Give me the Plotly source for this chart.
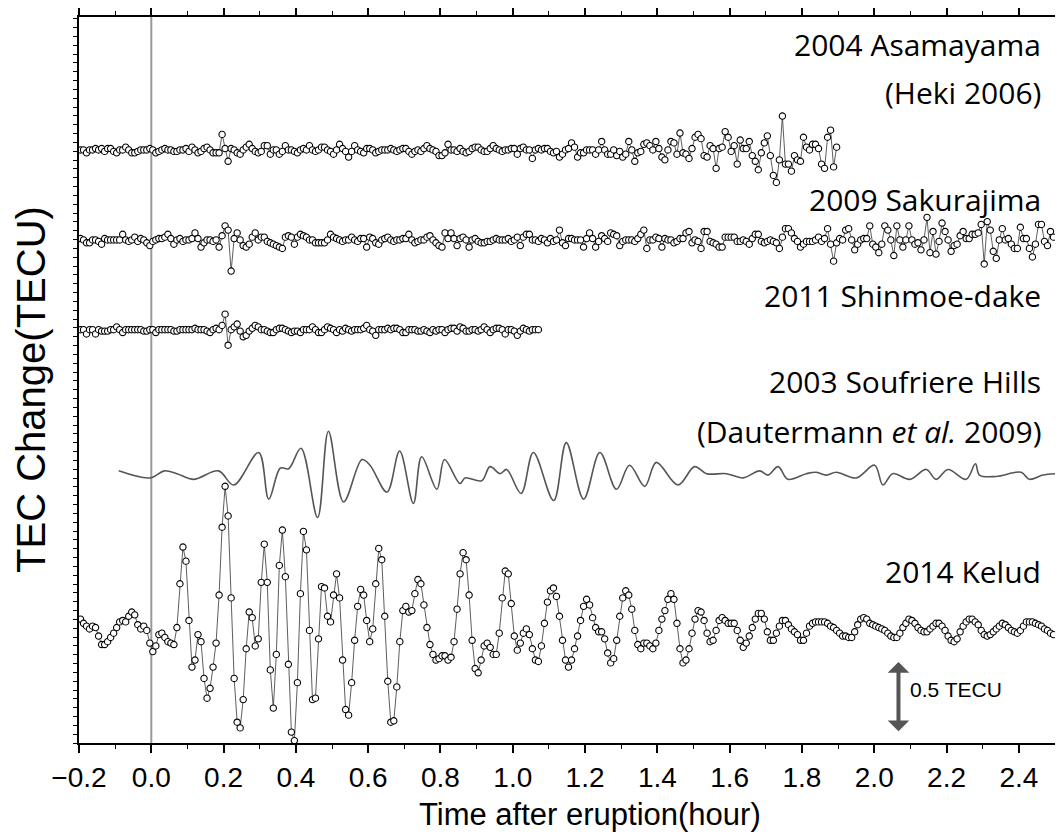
import plotly.graph_objects as go

# ---------------- data (TECU, relative to each series' own baseline) ----------------
DT = 1.0 / 120.0          # 30-s sampling, in hours
T0 = -0.1958              # time of first sample (hour)

asama_label = ["2004 Asamayama", "(Heki 2006)"]
asama_offset = 4.197
asama_vals = [
    0.00, 0.00, -0.02, 0.00, 0.00, 0.01, 0.00, 0.01, -0.01, 0.01,
    0.01, -0.01, -0.02, 0.00, 0.00, 0.02, 0.00, -0.02, -0.02, -0.01,
    0.00, 0.00, 0.00, 0.01, 0.00, -0.02, -0.01, 0.00, 0.01, 0.00,
    0.00, -0.01, -0.01, 0.00, 0.00, 0.01, -0.01, 0.02, 0.00, -0.02,
    -0.01, 0.01, 0.02, 0.00, -0.02, -0.02, -0.02, 0.11, 0.01, -0.08,
    0.01, 0.00, -0.02, -0.03, 0.00, 0.02, 0.04, 0.01, -0.01, -0.02,
    -0.01, 0.03, 0.03, -0.03, 0.00, 0.00, -0.03, -0.01, 0.03, 0.00,
    0.00, -0.01, -0.02, 0.00, 0.01, 0.00, 0.03, 0.00, -0.01, 0.00,
    0.02, 0.02, 0.00, -0.01, -0.03, 0.00, 0.04, 0.01, -0.01, -0.05,
    -0.01, 0.03, 0.00, -0.01, -0.02, 0.01, 0.01, 0.00, -0.02, -0.01,
    0.00, 0.00, 0.00, 0.01, 0.00, -0.01, 0.00, 0.01, 0.01, -0.01,
    -0.03, -0.01, 0.00, -0.01, 0.01, 0.03, 0.01, 0.00, -0.01, -0.04,
    -0.04, -0.02, 0.04, 0.00, 0.00, -0.01, 0.01, -0.01, -0.02, -0.01,
    0.01, 0.02, 0.02, 0.00, -0.01, -0.01, 0.01, 0.03, 0.01, 0.00,
    -0.01, 0.00, 0.00, 0.01, 0.01, -0.03, 0.01, 0.02, 0.00, 0.00,
    -0.06, 0.00, 0.01, 0.00, 0.01, 0.01, -0.01, -0.02, -0.01, -0.05,
    -0.03, 0.00, 0.01, 0.05, 0.02, -0.05, -0.02, -0.02, 0.00, 0.00,
    0.00, -0.03, 0.00, 0.06, 0.00, -0.03, -0.03, 0.00, -0.04, -0.01,
    -0.05, -0.03, 0.06, 0.00, -0.08, -0.02, -0.01, 0.04, 0.05, 0.03,
    0.00, 0.06, 0.01, -0.05, -0.07, 0.00, 0.06, 0.05, -0.03, 0.12,
    -0.02, -0.03, -0.06, 0.01, 0.09, 0.11, 0.08, -0.04, -0.05, 0.03,
    0.01, -0.13, 0.01, 0.02, 0.13, 0.09, -0.01, 0.03, -0.10, 0.07,
    0.01, 0.01, 0.06, -0.04, -0.08, -0.14, -0.02, 0.05, 0.10, -0.04,
    -0.18, -0.23, -0.07, 0.24, -0.10, -0.10, -0.15, -0.04, -0.07, -0.08,
    0.09, 0.02, 0.00, 0.04, 0.04, 0.01, -0.10, -0.13, 0.09, 0.14,
    -0.12, 0.02,
]

sakura_label = ["2009 Sakurajima"]
sakura_offset = 3.56
sakura_vals = [
    0.01, 0.00, -0.02, -0.02, 0.00, 0.00, -0.01, -0.03, 0.01, 0.00,
    0.00, 0.00, 0.00, 0.00, 0.04, 0.00, -0.01, 0.00, 0.02, -0.01,
    0.01, 0.00, -0.02, -0.04, -0.01, 0.00, 0.01, 0.01, 0.02, 0.04,
    0.01, -0.03, 0.00, 0.01, -0.01, 0.00, 0.00, 0.01, 0.05, 0.01,
    -0.05, -0.02, 0.00, 0.00, -0.01, 0.00, -0.05, 0.03,
    0.10, 0.07, -0.22, 0.01, 0.05, 0.00, -0.04, -0.05, -0.03, 0.02,
    0.05, 0.00, 0.02, 0.02, -0.01, -0.02, -0.03, -0.04, -0.05, -0.06,
    0.02, 0.03, 0.02, -0.03, 0.02, 0.04, 0.03, 0.02, 0.00, 0.00,
    -0.02, -0.02, -0.02, -0.02, 0.00, 0.04, 0.02, 0.01, 0.00, -0.01,
    0.00, 0.00, 0.02, 0.00, -0.01, 0.01, 0.01, -0.05, 0.02, 0.01,
    -0.02, -0.03, 0.00, 0.01, 0.02, 0.00, -0.01, 0.00, 0.00, 0.01,
    0.01, 0.04, 0.00, -0.02, -0.01, 0.00, 0.00, 0.02, 0.03, 0.00,
    -0.02, -0.04, -0.05, 0.05, 0.01, 0.05, 0.01, -0.04, 0.01, 0.02,
    0.00, -0.05, 0.00, 0.01, -0.01, -0.02, -0.02, -0.01, -0.01, 0.00,
    0.01, 0.00, 0.00, 0.00, 0.01, -0.01, 0.00, 0.02, -0.04, 0.02,
    0.04, 0.04, 0.00, 0.00, -0.01, 0.01, 0.00, -0.02, 0.01, -0.01,
    0.00, 0.07, -0.02, -0.04, 0.01, 0.01, 0.00,
    0.00, 0.00, -0.05, 0.01, 0.05, 0.01, -0.05, -0.01, 0.03, 0.01,
    -0.01, 0.05, 0.04, 0.03, -0.04, -0.01, 0.00, 0.00, 0.00, -0.01,
    0.01, 0.04, 0.07, -0.06, 0.00, 0.00, 0.02, 0.01, -0.05, 0.01,
    0.00, 0.00, -0.02, -0.01, 0.01, 0.01, 0.05, 0.06, -0.02, 0.00,
    -0.01, -0.06, 0.06, 0.06, -0.01, -0.02, -0.03, -0.05, -0.05, 0.02,
    0.02, 0.02, 0.02, -0.01, -0.01, 0.00, -0.01, -0.03, 0.01, 0.04,
    0.04, -0.01, -0.02, -0.01, 0.00, -0.01, -0.02, -0.06, 0.02, 0.08,
    0.08, 0.05, 0.01, -0.01, -0.05, -0.03, -0.01, -0.01, -0.01, 0.00,
    0.02, -0.01, 0.01, 0.08, -0.03, -0.15, -0.02, 0.01, 0.00, 0.07,
    0.08, 0.00, -0.07, -0.03, 0.00, 0.01, 0.01, 0.10, -0.03, -0.05,
    -0.09, -0.03, 0.10, 0.07, 0.00, -0.11, 0.10, 0.00, -0.05, 0.00,
    0.10, 0.00, -0.03, -0.02, -0.07, 0.00, 0.16, -0.09, 0.06, -0.10,
    -0.01, 0.12, 0.06, 0.00, -0.08, -0.04, -0.03, 0.03, 0.06, 0.01,
    0.01, 0.04, 0.04, 0.05, 0.11, -0.17, 0.13, 0.07, -0.08, -0.13,
    0.00, 0.08, 0.00, 0.01, -0.03, -0.06, -0.06, 0.09, 0.01, 0.01,
    -0.06, -0.12, -0.03, 0.11, 0.11, -0.01, -0.04, 0.06, 0.02,
]

shinmoe_label = ["2011 Shinmoe-dake"]
shinmoe_offset = 2.925
shinmoe_vals = [
    0.00, 0.00, -0.03, 0.00, 0.00, -0.03, 0.00, -0.01, -0.01, -0.01,
    0.00, 0.00, 0.02, 0.00, -0.02, 0.00, 0.00, 0.00, 0.00, 0.00,
    0.00, -0.01, -0.01, 0.00, 0.00, -0.02, 0.00, 0.00, 0.00, 0.00,
    0.00, -0.01, -0.01, 0.00, 0.00, 0.00, 0.00, 0.00, 0.01, 0.00,
    0.00, 0.00, -0.01, -0.02, 0.00, 0.01, 0.00,
    0.03, 0.11, -0.11, 0.00, 0.02, 0.04, -0.01, -0.05, -0.04, -0.01, 0.01, 0.03,
    0.02, 0.00, 0.00, -0.01, -0.02, -0.02, 0.00, 0.01, 0.01, 0.00,
    -0.01, -0.02, -0.01, -0.01, -0.02, 0.00, 0.00, 0.00, 0.02, 0.00,
    -0.02, -0.02, 0.00, 0.02, 0.01, 0.00, -0.02, 0.00, -0.01, 0.01,
    0.00, -0.01, 0.00, 0.00, 0.00, 0.01, 0.03, 0.00, -0.01, -0.04,
    0.00, 0.00, 0.00, 0.01, 0.00, 0.01, 0.01, 0.00, -0.02, -0.02,
    0.00, 0.00, 0.00, -0.01, -0.01, 0.00, -0.01, -0.02, 0.00, -0.01,
    0.00, 0.00, -0.02, 0.00, 0.01, 0.01, -0.01, 0.02, 0.01, -0.01,
    -0.01, 0.00, 0.00, -0.01, 0.00, 0.02, 0.00, -0.02, 0.00, 0.01,
    0.01, 0.00, -0.03, 0.00, 0.00, -0.01, -0.04, -0.01, 0.01, 0.00,
    -0.01, 0.00, 0.00, 0.00,
]

souf_label = ["2003 Soufriere Hills", "(Dautermann <i>et al.</i> 2009)"]
souf_offset = 1.906
souf_t = [
    -0.090, -0.003, 0.036, 0.071, 0.117, 0.186, 0.228, 0.297, 0.325, 0.357,
    0.380, 0.414, 0.460, 0.490, 0.532, 0.583, 0.605, 0.652, 0.687, 0.725,
    0.748, 0.790, 0.811, 0.854, 0.868, 0.914, 0.937, 0.965, 0.983, 1.023,
    1.057, 1.113, 1.148, 1.196, 1.241, 1.287, 1.323, 1.365, 1.397, 1.457,
    1.503, 1.536, 1.591, 1.637, 1.683, 1.706, 1.734, 1.761, 1.812, 1.840,
    1.867, 1.895, 1.950, 2.001, 2.024, 2.051, 2.098, 2.144, 2.171, 2.204,
    2.254, 2.280, 2.291, 2.337, 2.406, 2.429, 2.466, 2.500,
]
souf_vals = [
    0.02, -0.03, 0.02, 0.00, -0.04, 0.02, -0.08, 0.15, -0.18, 0.04,
    0.035, 0.18, -0.31, 0.30, -0.20, 0.10, 0.06, -0.13, 0.16, -0.21,
    0.12, -0.11, 0.10, -0.07, -0.03, -0.05, 0.05, 0.00, 0.03, -0.14,
    0.15, -0.19, 0.22, -0.18, 0.15, -0.11, 0.06, -0.09, 0.08, -0.08,
    0.05, 0.00, 0.00, -0.03, 0.02, -0.01, 0.05, -0.04, 0.00, 0.01,
    -0.01, 0.01, -0.03, 0.06, -0.08, 0.00, -0.04, 0.03, -0.04, 0.03,
    -0.04, 0.07, -0.01, -0.02, 0.01, -0.04, -0.01, 0.00,
]

kelud_label = ["2014 Kelud"]
kelud_offset = 0.837
kelud_vals = [
    0.04, 0.01, -0.01, -0.03, -0.01, -0.02, -0.08, -0.14, -0.14, -0.12,
    -0.09, -0.06, -0.02, 0.02, 0.03, 0.02, 0.06, 0.09, 0.07, 0.00,
    -0.03, -0.01, -0.04, -0.13, -0.19, -0.15, -0.07, -0.06, -0.09, -0.12,
    -0.13, -0.14, -0.02, 0.29, 0.55, 0.45, 0.03, -0.30, -0.25, -0.07,
    -0.12, -0.38, -0.52, -0.45, -0.30, -0.13, 0.21, 0.69, 0.98, 0.77,
    0.19, -0.38, -0.69, -0.73, -0.53, -0.17, 0.09, 0.05, -0.15, -0.10,
    0.30, 0.57, 0.30, -0.32, -0.59, -0.21, 0.42, 0.67, 0.34, -0.28,
    -0.76, -0.82, -0.41, 0.22, 0.66, 0.53, -0.04, -0.53, -0.52, -0.10,
    0.27, 0.26, 0.06, 0.02, 0.21, 0.36, 0.19, -0.25, -0.60, -0.64,
    -0.41, -0.11, 0.13, 0.25, 0.21, 0.03, -0.12, -0.03, 0.29, 0.54,
    0.46, 0.06, -0.40, -0.69, -0.68, -0.44, -0.12, 0.10, 0.13, 0.09,
    0.10, 0.22, 0.32, 0.29, 0.14, -0.02, -0.14, -0.21, -0.25, -0.24,
    -0.22, -0.22, -0.25, -0.23, -0.12, 0.11, 0.36, 0.51, 0.46, 0.21,
    -0.11, -0.31, -0.34, -0.25, -0.15, -0.13, -0.16, -0.21, -0.21, -0.06,
    0.19, 0.38, 0.36, 0.15, -0.08, -0.18, -0.13, -0.06, -0.03, -0.07,
    -0.17, -0.25, -0.26, -0.15, 0.01, 0.16, 0.24, 0.26, 0.20, 0.06,
    -0.11, -0.25, -0.30, -0.25, -0.17, -0.08, 0.03, 0.13, 0.18, 0.14,
    0.05, -0.02, -0.05, -0.05, -0.10, -0.20, -0.27, -0.24, -0.11, 0.06,
    0.19, 0.24, 0.21, 0.11, -0.04, -0.14, -0.17, -0.13, -0.13, -0.15,
    -0.17, -0.13, -0.04, 0.04, 0.10, 0.18, 0.22, 0.18, 0.01, -0.17,
    -0.27, -0.25, -0.17, -0.06, 0.04, 0.10, 0.09, 0.03, -0.06, -0.12,
    -0.11, -0.04, 0.03, 0.05, 0.03, 0.01, 0.01, 0.01, -0.04, -0.11,
    -0.16, -0.13, -0.08, -0.02, 0.04, 0.08, 0.08, 0.04, -0.05, -0.11,
    -0.11, -0.06, -0.01, 0.03, 0.03, 0.00, -0.03, -0.05, -0.07, -0.11,
    -0.11, -0.06, -0.01, 0.01, 0.02, 0.02, 0.02, 0.02, 0.01, -0.01,
    -0.02, -0.04, -0.06, -0.08, -0.08, -0.09, -0.09, -0.05, 0.00, 0.04,
    0.05, 0.04, 0.01, 0.00, -0.01, -0.02, -0.03, -0.04, -0.06, -0.08,
    -0.09, -0.09, -0.06, -0.02, 0.01, 0.04, 0.03, 0.01, -0.02, -0.04,
    -0.05, -0.05, -0.03, -0.01, 0.01, 0.01, -0.01, -0.04, -0.08, -0.11,
    -0.12, -0.10, -0.05, -0.01, 0.02, 0.04, 0.04, 0.02, 0.00, -0.04,
    -0.07, -0.08, -0.07, -0.05, -0.03, -0.01, 0.01, 0.00, -0.02, -0.04,
    -0.05, -0.06, -0.04, -0.01, 0.02, 0.02, 0.02, 0.01, 0.00, -0.01,
    -0.03, -0.04, -0.06, -0.07,
]

scale_label = "0.5 TECU"
scale_len = 0.5
x_ticks = [-0.2, 0.0, 0.2, 0.4, 0.6, 0.8, 1.0, 1.2, 1.4, 1.6, 1.8, 2.0, 2.2, 2.4]
x_title = "Time after eruption(hour)"
y_title = "TEC Change(TECU)"

# ---------------- figure ----------------
fig = go.Figure()


def sampled(vals, offset):
    t = [T0 + i * DT for i in range(len(vals))]
    y = [v + offset for v in vals]
    return t, y


fig.add_trace(go.Scatter(
    x=souf_t, y=[v + souf_offset for v in souf_vals], mode="lines",
    line=dict(color="#555555", width=1.6, shape="spline", smoothing=1.0),
    hoverinfo="skip"))

for vals, off in [(asama_vals, asama_offset), (sakura_vals, sakura_offset),
                  (shinmoe_vals, shinmoe_offset), (kelud_vals, kelud_offset)]:
    t, y = sampled(vals, off)
    fig.add_trace(go.Scatter(
        x=t, y=y, mode="lines+markers",
        line=dict(color="#333333", width=0.8),
        marker=dict(symbol="circle", size=6.3, color="white",
                    line=dict(color="black", width=1.1)),
        hoverinfo="skip"))

label_font = dict(family="Open Sans", size=30, color="black")
x_lab = 2.468
ann = []
label_rows = [
    (asama_label[0], 4.942), (asama_label[1], 4.602),
    (sakura_label[0], 3.845), (shinmoe_label[0], 3.166),
    (souf_label[0], 2.557), (souf_label[1], 2.203),
    (kelud_label[0], 1.212),
]
for txt, yy in label_rows:
    ann.append(dict(x=x_lab, y=yy, xref="x", yref="y", text=txt, showarrow=False,
                    xanchor="right", yanchor="middle", font=label_font))

# 0.5 TECU scale arrow (double headed)
ax_x = 2.067
y_bot = 0.073
y_top = y_bot + scale_len
ann.append(dict(x=ax_x, y=y_top, ax=ax_x, ay=y_bot, xref="x", yref="y",
                axref="x", ayref="y", text="", showarrow=True,
                arrowside="end+start", arrowhead=1, startarrowhead=1,
                arrowsize=0.9, startarrowsize=0.9, arrowwidth=4,
                standoff=0, startstandoff=0, arrowcolor="#555555"))
ann.append(dict(x=2.092, y=(y_bot + y_top) / 2 + 0.053, xref="x", yref="y",
                text=scale_label, showarrow=False, xanchor="left", yanchor="middle",
                font=dict(family="Liberation Sans", size=21, color="black")))

# axis titles
ann.append(dict(x=0.5236, y=-0.099, xref="paper", yref="paper", text=x_title,
                showarrow=False, xanchor="center", yanchor="middle",
                font=dict(family="Liberation Sans", size=31, color="black")))
ann.append(dict(x=-0.049, y=0.4866, xref="paper", yref="paper", text=y_title,
                showarrow=False, xanchor="center", yanchor="middle", textangle=-90,
                font=dict(family="Liberation Sans", size=40, color="black")))

# the page body adds an 8 px offset, so the figure is 8 px smaller than the window
fig.update_layout(
    width=1055, height=828,
    margin=dict(l=71, r=7.5, t=9, b=92.7, autoexpand=False),
    plot_bgcolor="white", paper_bgcolor="white",
    showlegend=False,
    annotations=ann,
    shapes=[dict(type="line", xref="x", yref="paper", x0=0, x1=0, y0=0, y1=1,
                 line=dict(color="#999999", width=2), layer="below")],
)

fig.update_xaxes(
    range=[-0.2, 2.5], tickvals=x_ticks, tickformat=".1f", automargin=False,
    ticks="outside", ticklen=8, tickwidth=1.5, tickcolor="black",
    showline=True, linewidth=2, linecolor="black", mirror="allticks",
    showgrid=False, zeroline=False,
    minor=dict(dtick=0.1, tick0=0, ticks="outside", ticklen=4, tickwidth=1.2, tickcolor="black"),
    tickfont=dict(family="Liberation Sans", size=28, color="black"),
)
fig.update_yaxes(
    range=[0, 5.138], tick0=0, dtick=0.0625, showticklabels=False, automargin=False,
    ticks="outside", ticklen=4, tickwidth=1.2, tickcolor="black",
    showline=True, linewidth=2, linecolor="black", mirror="allticks",
    showgrid=False, zeroline=False,
)

fig.write_html("out.html")
